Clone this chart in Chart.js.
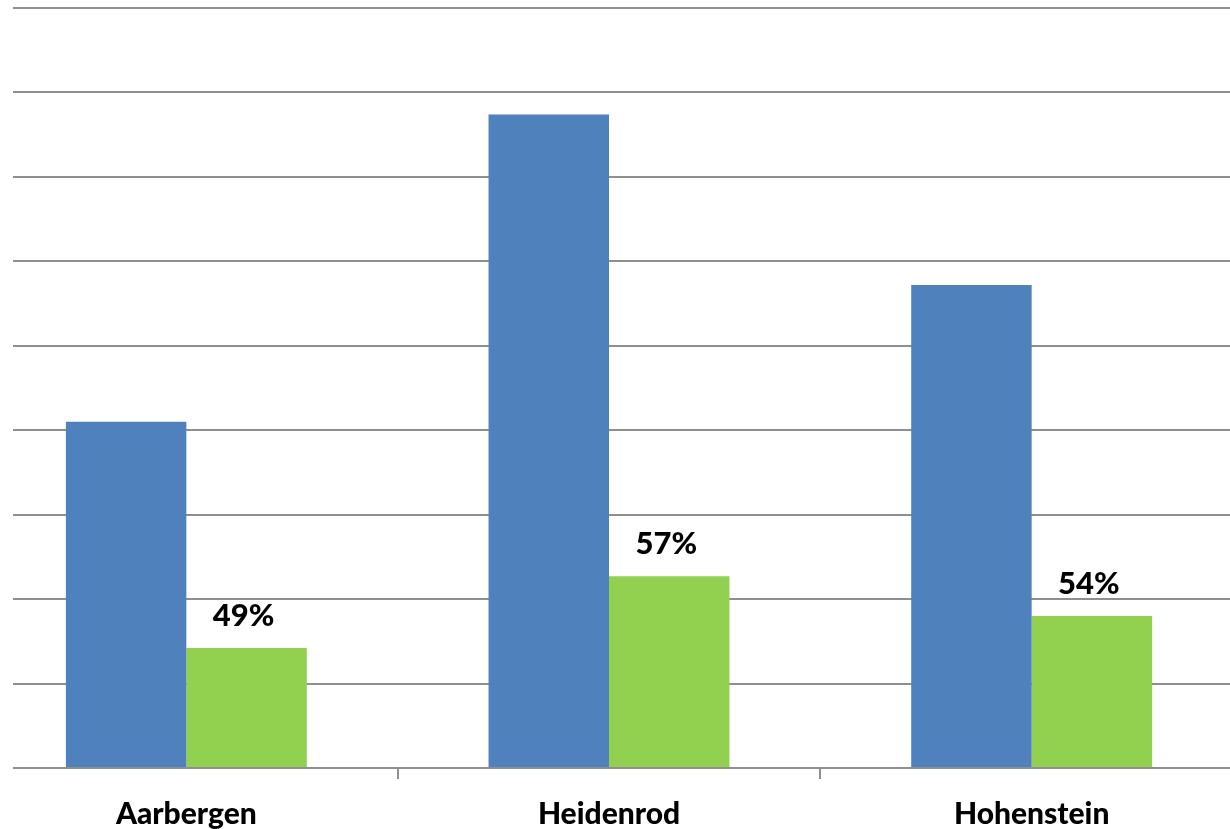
<!DOCTYPE html>
<html>
<head>
<meta charset="utf-8">
<script src="https://cdn.jsdelivr.net/npm/chart.js@4/dist/chart.umd.min.js"></script>
<style>
    html, body { margin: 0; padding: 0; background: #fff; overflow: hidden; }
    #wrap { position: absolute; left: 13px; top: 0; width: 1217px; height: 829px; overflow: hidden; }
    #barChart { position: absolute; left: -38.5px; top: -2px; }
</style>
</head>
<body>
<div id="wrap">
    <canvas id="barChart" width="1268" height="840"></canvas>
</div>
<script>
let places = ['Aarbergen', 'Heidenrod', 'Hohenstein'];
let totalValues = [4100, 7740, 5720];
let partValues = [1420, 2270, 1800];
let partLabels = ['49%', '57%', '54%'];

let gridGray = '#8f8f8f';
let labelFont = 'Lato, "Open Sans", sans-serif';

// percentages written above the green bars
let percentLabels = {
    id: 'percentLabels',
    afterDatasetsDraw: function (chart) {
        let ctx = chart.ctx;
        let meta = chart.getDatasetMeta(1);
        ctx.save();
        ctx.fillStyle = '#000';
        ctx.font = '900 31px ' + labelFont;
        ctx.textAlign = 'center';
        ctx.textBaseline = 'bottom';
        meta.data.forEach(function (bar, i) {
            ctx.fillText(partLabels[i], bar.x - 3, bar.y - 17);
        });
        ctx.restore();
    }
};

let barChartDraw = function () {
    let painter = document.getElementById('barChart').getContext('2d');
    window.barChart = new Chart(painter, {
        type: 'bar',
        data: {
            labels: places,
            datasets: [{
                data: totalValues,
                backgroundColor: '#4f81bd',
            }, {
                data: partValues,
                backgroundColor: '#92d050',
            }]
        },
        options: {
            responsive: false,
            animation: false,
            barPercentage: 1.0,
            categoryPercentage: 0.57,
            layout: { padding: { top: 10, left: 0, right: 0, bottom: 0 } },
            scales: {
                x: {
                    afterFit: function (scale) { scale.height = 70; },
                    border: { display: true, color: gridGray, width: 2 },
                    grid: {
                        drawOnChartArea: false,
                        drawTicks: true,
                        tickLength: 11,
                        color: gridGray,
                        lineWidth: 2,
                    },
                    ticks: {
                        color: '#000',
                        padding: 17,
                        font: { family: labelFont, size: 30, weight: '900' },
                    },
                },
                y: {
                    min: 0,
                    max: 9000,
                    afterFit: function (scale) { scale.width = 0; },
                    border: { display: false },
                    grid: { color: gridGray, lineWidth: 2, drawTicks: false },
                    ticks: { display: false, stepSize: 1000 },
                }
            },
            plugins: {
                legend: { display: false },
                tooltip: { enabled: false },
            },
        },
        plugins: [percentLabels],
    });
};

window.onload = function () {
    barChartDraw();
};
</script>
</body>
</html>
